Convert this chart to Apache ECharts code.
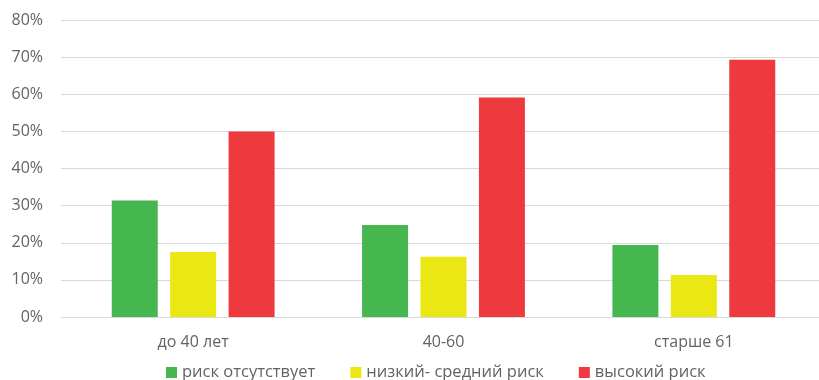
<!DOCTYPE html>
<html>
<head>
<meta charset="utf-8">
<script src="https://cdn.jsdelivr.net/npm/echarts@6/dist/echarts.min.js"></script>
<style>
	html, body { margin: 0; padding: 0; background: #fff; }
	#chart { width: 819px; height: 380px; }
</style>
</head>
<body>
<div id="chart"></div>
<script>
const categories = ['до 40 лет', '40-60', 'старше 61']
const seriesNames = ['риск отсутствует', 'низкий- средний риск', 'высокий риск']
const noRisk = [31.4, 24.8, 19.4]
const lowMidRisk = [17.5, 16.2, 11.3]
const highRisk = [50.0, 59.1, 69.3]
const colors = ['#46b64f', '#ebe713', '#ee3a3e']

const chart = echarts.init(document.getElementById('chart'), null, { renderer: 'canvas' })

const font = 'Open Sans'
const textColor = '#636363'

function bar(name, data, color) {
	return {
		name: name,
		type: 'bar',
		xAxisIndex: 1,
		yAxisIndex: 1,
		barWidth: 46,
		barGap: '27%',
		itemStyle: { color: color },
		data: data
	}
}

const option = {
	animation: false,
	color: colors,
	grid: [
		// background grid: gridlines and y labels
		{ left: 61, right: 0, top: 20, height: 297 },
		// bars, shifted a bit right like the original
		{ left: 68, right: 0, top: 20, height: 297 }
	],
	legend: {
		top: 364,
		left: 166,
		padding: 0,
		itemWidth: 11,
		itemHeight: 11,
		itemGap: 35,
		icon: 'rect',
		textStyle: { fontFamily: font, fontSize: 16.5, color: textColor },
		data: seriesNames
	},
	xAxis: [
		{
			type: 'category',
			gridIndex: 0,
			data: categories,
			axisLine: { show: false },
			axisTick: { show: false },
			axisLabel: { show: false }
		},
		{
			type: 'category',
			gridIndex: 1,
			data: categories,
			axisLine: { show: false },
			axisTick: { show: false },
			axisLabel: {
				fontFamily: font,
				fontSize: 16,
				color: textColor,
				margin: 17
			}
		}
	],
	yAxis: [
		{
			type: 'value',
			gridIndex: 0,
			min: 0,
			max: 80,
			interval: 10,
			axisLine: { show: false },
			axisTick: { show: false },
			axisLabel: {
				formatter: '{value}%',
				fontFamily: font,
				fontSize: 16,
				color: textColor,
				margin: 18
			},
			splitLine: { lineStyle: { color: '#d9d9d9', width: 1 } }
		},
		{
			type: 'value',
			gridIndex: 1,
			min: 0,
			max: 80,
			interval: 10,
			show: false
		}
	],
	series: [
		bar(seriesNames[0], noRisk, colors[0]),
		bar(seriesNames[1], lowMidRisk, colors[1]),
		bar(seriesNames[2], highRisk, colors[2])
	]
}

chart.setOption(option)
</script>
</body>
</html>
